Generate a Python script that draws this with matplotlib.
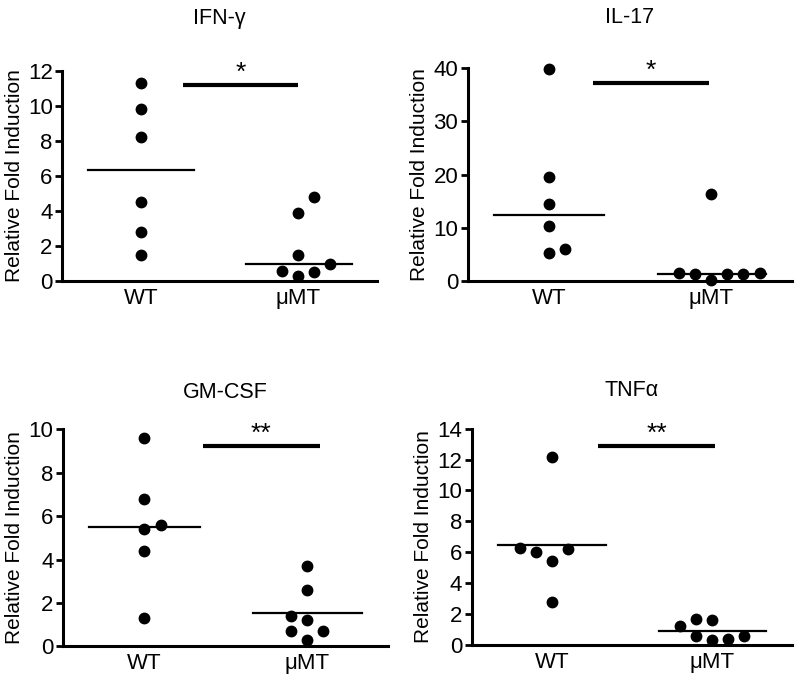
import matplotlib
matplotlib.use("Agg")
import matplotlib.pyplot as plt

plt.rcParams['font.family'] = ['Liberation Sans', 'DejaVu Sans']

groups = ["WT", "μMT"]
titles = ["IFN-γ", "IL-17", "GM-CSF", "TNFα"]
stars = ["*", "*", "**", "**"]
ymax = [12, 40, 10, 14]
ystep = [2, 10, 2, 2]

# values, with the horizontal scatter offset of each dot
wt_vals = [
    [11.3, 9.8, 8.2, 4.5, 2.8, 1.5],
    [39.8, 19.6, 14.5, 10.3, 5.3, 6.1],
    [9.6, 6.8, 5.4, 5.6, 4.4, 1.3],
    [12.2, 6.3, 6.0, 5.4, 6.2, 2.8],
]
wt_dx = [
    [0, 0, 0, 0, 0, 0],
    [0, 0, 0, 0, 0, 0.1],
    [0, 0, 0, 0.1, 0, 0],
    [0, -0.2, -0.1, 0, 0.1, 0],
]
mt_vals = [
    [4.8, 3.9, 1.5, 1.0, 0.6, 0.3, 0.5],
    [1.6, 1.3, 16.4, 0.3, 1.3, 1.3, 1.6],
    [3.7, 2.6, 1.4, 1.2, 0.7, 0.7, 0.3],
    [1.2, 1.7, 1.6, 0.6, 0.3, 0.4, 0.6],
]
mt_dx = [
    [0.1, 0, 0, 0.2, -0.1, 0, 0.1],
    [-0.2, -0.1, 0, 0, 0.1, 0.2, 0.3],
    [0, 0, -0.1, 0, -0.1, 0.1, 0],
    [-0.2, -0.1, 0, -0.1, 0, 0.1, 0.2],
]
wt_line = [6.35, 12.5, 5.52, 6.48]
mt_line = [1.0, 1.45, 1.52, 0.92]
sig_y = [11.2, 37.2, 9.22, 12.9]
sig_x = [(1.27, 2.0), (1.27, 1.99), (1.36, 2.08), (1.29, 2.02)]

positions = [
    [0.078, 0.590, 0.393, 0.307],
    [0.585, 0.590, 0.405, 0.311],
    [0.079, 0.058, 0.406, 0.316],
    [0.590, 0.060, 0.400, 0.315],
]
title_y = [1.25, 1.235, 1.17, 1.175]

fig = plt.figure(figsize=(8, 6.86), dpi=100)

for i in range(4):
    ax = fig.add_axes(positions[i])
    ax.plot([1 + d for d in wt_dx[i]], wt_vals[i], 'o', color='black',
            markersize=7.5, clip_on=False, zorder=3)
    ax.plot([2 + d for d in mt_dx[i]], mt_vals[i], 'o', color='black',
            markersize=7.5, clip_on=False, zorder=3)
    ax.plot([0.66, 1.34], [wt_line[i]] * 2, color='black', lw=1.6)
    ax.plot([1.67, 2.34], [mt_line[i]] * 2, color='black', lw=1.6)
    ax.plot(sig_x[i], [sig_y[i]] * 2, color='black', lw=3, solid_capstyle='butt')
    ax.text((sig_x[i][0] + sig_x[i][1]) / 2, sig_y[i], stars[i], ha='center',
            va='bottom', fontsize=19)

    ax.set_xlim(0.5, 2.5)
    ax.set_ylim(0, ymax[i])
    ax.set_yticks(range(0, ymax[i] + 1, ystep[i]))
    ax.set_xticks([1, 2])
    ax.set_xticklabels(groups)
    ax.tick_params(axis='x', length=0, pad=5, labelsize=16)
    ax.tick_params(axis='y', length=5, width=2, pad=2, labelsize=16)
    for s in ['top', 'right']:
        ax.spines[s].set_visible(False)
    for s in ['left', 'bottom']:
        ax.spines[s].set_linewidth(2.2)
    ax.set_ylabel("Relative Fold Induction", fontsize=15, labelpad=3)
    ax.text(0.5, title_y[i], titles[i], transform=ax.transAxes, ha='center',
            va='center', fontsize=15.5)

fig.savefig("out.png", dpi=100)
